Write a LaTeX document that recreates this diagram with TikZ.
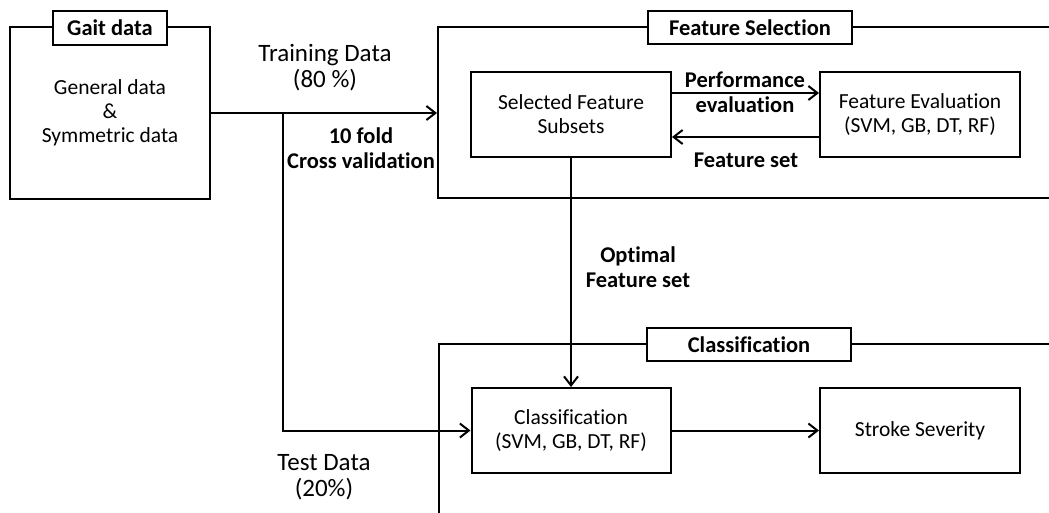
\documentclass[tikz,border=0pt]{standalone}
\usepackage{fontspec}
\setmainfont{Carlito}[Ligatures=NoCommon]
\usetikzlibrary{arrows.meta}

\begin{document}
\begin{tikzpicture}[x=1pt,y=-1pt,
  every node/.style={font=\fontsize{21.5}{24}\selectfont, inner sep=0pt},
  box/.style={draw, line width=2pt, fill=white, align=center},
  frame/.style={draw, line width=2pt},
  tag/.style={draw, line width=2pt, fill=white, font=\fontsize{22.5}{24}\selectfont\bfseries},
  lbl/.style={align=center, font=\fontsize{25}{26}\selectfont},
  blbl/.style={align=center, font=\fontsize{22.5}{25}\selectfont\bfseries},
  link/.style={line width=2pt},
  arr/.style={link, -{Straight Barb[length=9pt,width=14pt,line width=2pt]}}
]
\path[use as bounding box, clip] (0,0) rectangle (1049,512);
\fill[white] (0,0) rectangle (1049,512);

% outer frames (open to the right / bottom)
\node[frame, minimum width=662pt, minimum height=171pt] (fs) at (769,112.5) {};
\node[frame, minimum width=662pt, minimum height=216pt] (cf) at (770,452) {};

% input data block
\node[box, minimum width=200pt, minimum height=172pt] (gait) at (110,113)
  {General data\\\&\\Symmetric data};

% frame titles
\node[tag, minimum width=114pt, minimum height=34pt] (gaittag) at (110,28) {Gait data};
\node[tag, minimum width=204pt, minimum height=33pt] (fstag) at (750,27.5) {Feature Selection};
\node[tag, minimum width=204pt, minimum height=33pt] (cftag) at (749,344.5) {Classification};

% inner blocks
\node[box, minimum width=200pt, minimum height=85pt] (sfs) at (571,114.5)
  {Selected Feature\\Subsets};
\node[box, minimum width=200pt, minimum height=85pt] (fe) at (920,114.5)
  {Feature Evaluation\\(SVM, GB, DT, RF)};
\node[box, minimum width=199pt, minimum height=85pt] (clf) at (571,430.5)
  {Classification\\(SVM, GB, DT, RF)};
\node[box, minimum width=200pt, minimum height=85pt] (sev) at (920,430.5)
  {Stroke Severity};

% connectors
\coordinate (split) at (283,113);
\draw[arr] (gait.east) -- (gait.east -| fs.west);
\draw[arr] (split) |- (clf.west);
\draw[arr] ([yshift=21.5pt]sfs.east) -- ([yshift=21.5pt]sfs.east -| fe.west);
\draw[arr] ([yshift=-22.5pt]fe.west) -- ([yshift=-22.5pt]fe.west -| sfs.east);
\draw[arr] (sfs.south) -- (clf.north);
\draw[arr] (clf.east) -- (sev.west);

% connector labels
\node[lbl] (train) at (325,68) {Training Data\\(80 \%)};
\node[blbl] (cv) at (361,148) {10 fold\\Cross validation};
\node[blbl] (perf) at (745,92) {Performance\\evaluation};
\node[blbl] (fset) at (746,160) {Feature set};
\node[blbl] (opt) at (638,267) {Optimal\\Feature set};
\node[lbl] (test) at (324,477) {Test Data\\(20\%)};
\end{tikzpicture}
\end{document}
